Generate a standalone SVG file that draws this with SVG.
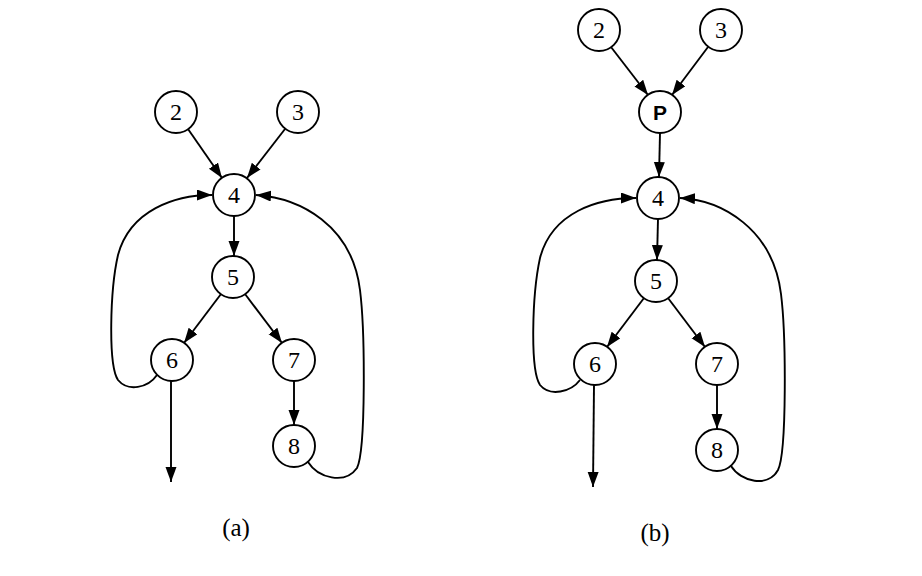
<svg xmlns="http://www.w3.org/2000/svg" width="922" height="576" viewBox="0 0 922 576">
<style>
.n circle{fill:#fff;stroke:#000;stroke-width:1.9}
.n text{font-family:"Liberation Serif",serif;font-size:24px;text-anchor:middle;fill:#000}
.e path,.e line{fill:none;stroke:#000;stroke-width:1.9;marker-end:url(#ah)}
.lab{font-family:"Liberation Serif",serif;font-size:25px;text-anchor:middle;fill:#000}
</style>
<defs>
<marker id="ah" markerUnits="userSpaceOnUse" markerWidth="16" markerHeight="12" refX="15" refY="5.5" orient="auto">
<path d="M0,0 L15,5.5 L0,11 Z" fill="#000"/>
</marker>
</defs>
<rect width="922" height="576" fill="#fff"/>
<g id="edges-a" class="e">
<line x1="188" y1="129" x2="222" y2="178"/>
<line x1="285" y1="129" x2="247" y2="178"/>
<line x1="234" y1="216" x2="234" y2="256"/>
<line x1="221" y1="294" x2="184" y2="343"/>
<line x1="245" y1="294" x2="282" y2="343"/>
<line x1="294" y1="381" x2="294" y2="425"/>
<line x1="171" y1="381" x2="171" y2="482"/>
<path d="M157,375 C148,388 128,392 118,380 C108,365 110,290 118,255 C130,210 175,195 212,195"/>
<path d="M308,462 C318,478 345,485 357,468 C366,450 365,330 360,290 C352,225 300,198 256,195"/>
</g>
<g id="edges-b" class="e">
<line x1="611" y1="47" x2="648" y2="95"/>
<line x1="708" y1="47" x2="672" y2="95"/>
<line x1="660" y1="133" x2="659" y2="177"/>
<line x1="658" y1="219" x2="657" y2="260"/>
<line x1="644" y1="298" x2="607" y2="347"/>
<line x1="668" y1="298" x2="705" y2="347"/>
<line x1="717" y1="385" x2="717" y2="429"/>
<line x1="594" y1="385" x2="593" y2="487"/>
<path d="M580,380 C571,392 550,397 540,385 C530,370 532,295 540,258 C552,212 598,198 636,198"/>
<path d="M731,466 C741,482 768,488 778,470 C787,452 786,334 781,294 C773,229 722,200 680,198"/>
</g>
<g id="a2" class="n"><circle cx="176" cy="112" r="21"/><text x="176" y="120">2</text></g>
<g id="a3" class="n"><circle cx="298" cy="112" r="21"/><text x="298" y="120">3</text></g>
<g id="a4" class="n"><circle cx="234" cy="195" r="21"/><text x="234" y="203">4</text></g>
<g id="a5" class="n"><circle cx="233" cy="277" r="21"/><text x="233" y="285">5</text></g>
<g id="a6" class="n"><circle cx="172" cy="360" r="21"/><text x="172" y="368">6</text></g>
<g id="a7" class="n"><circle cx="294" cy="360" r="21"/><text x="294" y="368">7</text></g>
<g id="a8" class="n"><circle cx="294" cy="446" r="21"/><text x="294" y="454">8</text></g>
<g id="b2" class="n"><circle cx="599" cy="30" r="21"/><text x="599" y="38">2</text></g>
<g id="b3" class="n"><circle cx="721" cy="30" r="21"/><text x="721" y="38">3</text></g>
<g id="bP" class="n"><circle cx="660" cy="112" r="21"/><text x="660" y="120" style="font-family:'Liberation Sans',sans-serif;font-size:21px;font-weight:bold">P</text></g>
<g id="b4" class="n"><circle cx="658" cy="198" r="21"/><text x="658" y="206">4</text></g>
<g id="b5" class="n"><circle cx="656" cy="281" r="21"/><text x="656" y="289">5</text></g>
<g id="b6" class="n"><circle cx="595" cy="364" r="21"/><text x="595" y="372">6</text></g>
<g id="b7" class="n"><circle cx="717" cy="364" r="21"/><text x="717" y="372">7</text></g>
<g id="b8" class="n"><circle cx="717" cy="450" r="21"/><text x="717" y="458">8</text></g>
<text class="lab" x="236" y="536">(a)</text>
<text class="lab" x="655" y="541">(b)</text>
</svg>
